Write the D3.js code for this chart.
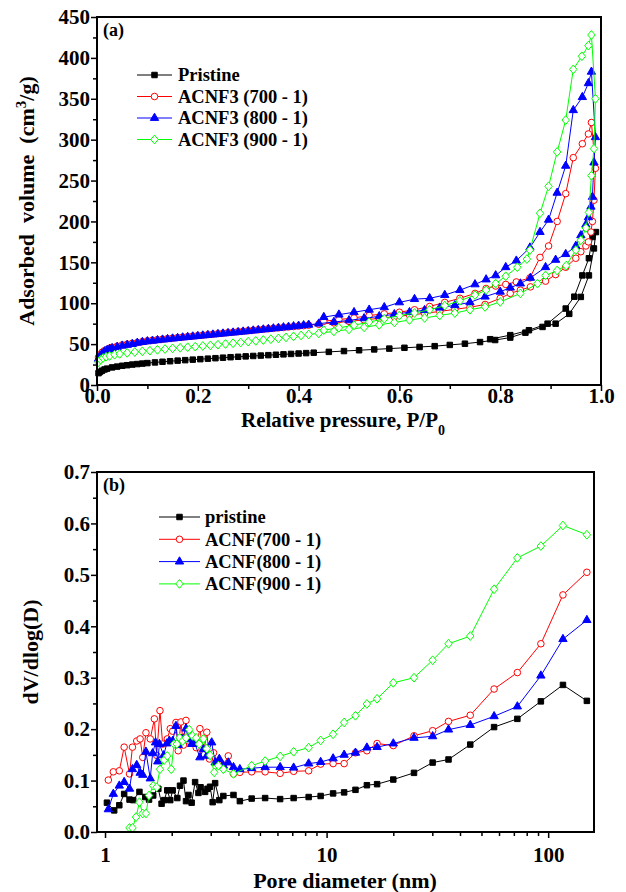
<!DOCTYPE html>
<html>
<head>
<meta charset="utf-8">
<script src="https://cdn.jsdelivr.net/npm/d3@7"></script>
<style>
  body { margin: 0; background: #fff; }
  svg text { font-family: "Liberation Serif", "Times New Roman", serif; font-weight: bold; fill: #000; }
</style>
</head>
<body>
<div id="chart"></div>
<script>
// ---------- panel (a): N2 isotherms, [P/P0, volume cm3/g] (adsorption then desorption) ----------
const isoPristine = [
  [0.003,14.5],[0.006,16],[0.01,17.5],[0.015,19],[0.02,20],[0.03,21.5],[0.04,22.5],[0.05,23.5],[0.06,24.2],[0.07,25],
  [0.08,25.6],[0.09,26.2],[0.10,26.8],[0.115,27.6],[0.13,28.4],[0.145,29.1],[0.16,29.8],[0.175,30.4],[0.19,31],[0.205,31.6],
  [0.22,32.2],[0.235,32.8],[0.25,33.4],[0.265,34],[0.28,34.5],[0.295,35],[0.31,35.5],[0.325,36],[0.34,36.5],[0.355,37],
  [0.37,37.5],[0.385,38],[0.40,38.5],[0.415,39],[0.43,39.5],[0.46,40.5],[0.49,41.5],[0.52,42.5],[0.55,43.5],[0.58,44.5],
  [0.61,45.5],[0.64,46.5],[0.67,47.5],[0.70,49],[0.73,50.5],[0.76,52.5],[0.79,55],[0.82,58],[0.85,64],[0.884,71],
  [0.91,75],[0.937,87],[0.96,107.7],[0.976,134],[0.986,167],[0.99,187],
  [0.983,181],[0.976,155],[0.963,134],[0.947,108],[0.930,93.5],[0.894,75],[0.857,67],[0.82,61],[0.78,56]
];
const isoACNF700 = [
  [0.003,34],[0.006,37],[0.01,40],[0.015,42],[0.02,43.5],[0.025,45],[0.03,46],[0.04,47.5],[0.05,49],[0.06,50],
  [0.07,51],[0.08,52],[0.09,53],[0.10,54],[0.11,54.7],[0.12,55.4],[0.13,56],[0.14,56.7],[0.15,57.3],[0.16,58],
  [0.17,58.6],[0.18,59.2],[0.19,59.8],[0.20,60.4],[0.21,61],[0.22,61.6],[0.23,62.2],[0.24,62.8],[0.25,63.4],[0.26,64],
  [0.27,64.6],[0.28,65.2],[0.29,65.8],[0.30,66.4],[0.31,67],[0.32,67.6],[0.33,68.2],[0.34,68.8],[0.35,69.3],[0.36,69.9],
  [0.37,70.4],[0.38,71],[0.39,71.5],[0.40,72.1],[0.41,72.6],[0.42,73.2],[0.44,74.3],[0.47,76],[0.50,77.8],[0.53,79.6],
  [0.56,81.5],[0.59,83.5],[0.62,85.5],[0.65,87.6],[0.68,90],[0.71,92.5],[0.74,95],[0.77,98.5],[0.80,106],[0.82,112],
  [0.84,116],[0.86,120],[0.89,127],[0.91,135],[0.93,144],[0.95,155],[0.96,163],[0.97,170],[0.975,175],[0.98,187],
  [0.983,200],[0.986,226],[0.989,265],
  [0.981,321],[0.975,307],[0.963,295],[0.945,278],[0.930,234],[0.913,200],[0.896,170],[0.879,156],[0.859,131],[0.832,126],
  [0.811,123],[0.791,121],[0.772,118],[0.75,112],[0.72,106],[0.69,101],[0.66,96],[0.63,92],[0.60,89],[0.57,87],
  [0.54,85],[0.51,82],[0.48,80],[0.45,78]
];
const isoACNF800 = [
  [0.003,32],[0.006,35.5],[0.01,38.5],[0.015,41],[0.02,42.5],[0.025,44],[0.03,45],[0.04,46.5],[0.05,48],[0.06,49],
  [0.07,50],[0.08,51.5],[0.09,52.5],[0.10,53.3],[0.11,54],[0.12,54.7],[0.13,55.4],[0.14,56],[0.15,56.7],[0.16,57.3],
  [0.17,58],[0.18,58.6],[0.19,59.2],[0.20,59.8],[0.21,60.4],[0.22,61],[0.23,61.6],[0.24,62.2],[0.25,62.8],[0.26,63.4],
  [0.27,64],[0.28,64.6],[0.29,65.2],[0.30,65.8],[0.31,66.5],[0.32,67.1],[0.33,67.8],[0.34,68.4],[0.35,69.1],[0.36,69.7],
  [0.37,70.4],[0.38,71],[0.39,71.7],[0.40,72.3],[0.41,73],[0.42,73.6],[0.44,75],[0.47,77],[0.50,79],[0.53,81.5],
  [0.56,84],[0.59,86.5],[0.62,89],[0.65,91.5],[0.68,94.5],[0.71,97.5],[0.74,101],[0.77,108],[0.80,114],[0.82,119],
  [0.84,124],[0.86,131],[0.89,144],[0.91,153],[0.93,160],[0.95,170],[0.96,183],[0.97,196],[0.975,205],[0.98,218],
  [0.983,230],[0.986,272],[0.989,303],
  [0.981,383],[0.975,369],[0.963,352],[0.945,336],[0.930,268],[0.913,235],[0.896,202],[0.879,187],[0.859,168],[0.832,152],
  [0.811,144],[0.791,134],[0.772,129],[0.75,123],[0.72,116],[0.69,110],[0.66,106],[0.63,105],[0.60,101],[0.57,95],
  [0.54,92],[0.51,89],[0.48,86],[0.45,83]
];
const isoACNF900 = [
  [0.003,28],[0.007,31],[0.012,33],[0.018,34.5],[0.025,35.5],[0.035,37],[0.045,38],[0.06,39.3],[0.075,40.3],[0.09,41.2],
  [0.105,42],[0.12,43],[0.135,44],[0.15,44.8],[0.165,45.5],[0.18,46.2],[0.195,46.9],[0.21,47.7],[0.225,48.5],[0.24,49.3],
  [0.255,50.2],[0.27,51.1],[0.285,52],[0.30,53],[0.315,54],[0.33,55],[0.345,56],[0.36,57],[0.375,58.2],[0.39,59.4],
  [0.405,60.6],[0.42,61.8],[0.44,63.2],[0.47,65.5],[0.50,68],[0.53,70.5],[0.56,73.5],[0.59,76.5],[0.62,79.5],[0.65,82],
  [0.68,85],[0.71,88],[0.74,92],[0.77,95.5],[0.80,101.6],[0.84,112],[0.874,124],[0.89,134],[0.913,140],[0.931,146],
  [0.95,165],[0.96,177],[0.97,192],[0.976,211],[0.981,256],[0.986,289],[0.989,350],
  [0.981,428],[0.975,415],[0.962,402],[0.945,386],[0.930,324],[0.913,285],[0.896,243],[0.879,210],[0.859,165],[0.853,154],
  [0.834,144],[0.811,133],[0.791,124],[0.772,116],[0.75,110],[0.72,103],[0.69,97],[0.66,92],[0.63,88],[0.60,85],
  [0.57,81],[0.54,77],[0.51,73],[0.48,70],[0.45,67]
];
const namesA = ["Pristine", "ACNF3 (700 - 1)", "ACNF3 (800 - 1)", "ACNF3 (900 - 1)"];
const xTicksA = [0, 0.2, 0.4, 0.6, 0.8, 1.0];
const xMinorA = [0.1, 0.3, 0.5, 0.7, 0.9];
const yTicksA = [0, 50, 100, 150, 200, 250, 300, 350, 400, 450];
const yMinorA = [25, 75, 125, 175, 225, 275, 325, 375, 425];

// ---------- panel (b): pore size distribution, [pore diameter nm, dV/dlog(D)] ----------
const psdPristine = [
  [1.02,0.057],[1.10,0.042],[1.16,0.052],[1.22,0.074],[1.29,0.063],[1.34,0.062],[1.43,0.078],[1.52,0.068],[1.58,0.063],[1.65,0.071],
  [1.74,0.084],[1.80,0.055],[1.85,0.062],[1.91,0.081],[1.97,0.062],[2.02,0.081],[2.12,0.066],[2.18,0.090],[2.26,0.100],[2.32,0.060],
  [2.38,0.072],[2.46,0.057],[2.55,0.097],[2.64,0.076],[2.70,0.087],[2.83,0.078],[2.90,0.084],[2.98,0.088],[3.06,0.058],[3.14,0.095],
  [3.28,0.062],[3.42,0.070],[3.80,0.072],[4.06,0.060],[4.59,0.065],[5.28,0.066],[6.17,0.064],[7.1,0.066],[8.3,0.068],[9.4,0.070],
  [10.7,0.075],[12.0,0.077],[13.5,0.082],[15.2,0.091],[16.9,0.093],[20.0,0.102],[24.8,0.115],[30.1,0.135],[35.5,0.141],[44.5,0.170],
  [57.0,0.204],[72.6,0.220],[92.7,0.254],[116.6,0.286],[149.5,0.255]
];
const psdACNF700 = [
  [1.035,0.101],[1.09,0.117],[1.16,0.119],[1.22,0.165],[1.29,0.113],[1.33,0.165],[1.39,0.177],[1.44,0.181],[1.48,0.145],[1.53,0.193],
  [1.60,0.181],[1.67,0.220],[1.71,0.149],[1.77,0.236],[1.82,0.171],[1.91,0.181],[1.97,0.201],[2.02,0.196],[2.09,0.213],[2.14,0.158],
  [2.20,0.214],[2.26,0.169],[2.32,0.217],[2.38,0.177],[2.46,0.183],[2.58,0.164],[2.68,0.201],[2.78,0.151],[2.88,0.194],[2.96,0.142],
  [3.09,0.154],[3.25,0.132],[3.42,0.130],[3.60,0.148],[3.80,0.113],[4.06,0.116],[4.59,0.117],[5.28,0.117],[6.17,0.114],[7.1,0.118],
  [8.3,0.119],[9.4,0.132],[10.7,0.133],[12.0,0.133],[13.5,0.154],[15.2,0.158],[16.9,0.172],[20.0,0.168],[24.8,0.187],[30.1,0.197],
  [35.5,0.215],[44.5,0.227],[57.0,0.278],[72.6,0.310],[92.7,0.366],[116.6,0.461],[149.5,0.505]
];
const psdACNF800 = [
  [1.035,0.044],[1.09,0.074],[1.16,0.090],[1.22,0.097],[1.29,0.084],[1.33,0.122],[1.39,0.130],[1.44,0.115],[1.48,0.111],[1.53,0.156],
  [1.60,0.104],[1.64,0.153],[1.69,0.174],[1.73,0.137],[1.76,0.171],[1.84,0.149],[1.90,0.172],[1.95,0.177],[2.02,0.177],[2.09,0.206],
  [2.14,0.169],[2.22,0.181],[2.32,0.201],[2.38,0.180],[2.46,0.171],[2.55,0.171],[2.68,0.145],[2.78,0.161],[2.88,0.148],[3.03,0.174],
  [3.14,0.135],[3.28,0.142],[3.42,0.129],[3.60,0.135],[3.80,0.126],[4.06,0.122],[4.59,0.124],[5.28,0.126],[6.17,0.126],[7.1,0.125],
  [8.3,0.133],[9.4,0.136],[10.7,0.143],[12.0,0.150],[13.5,0.154],[15.2,0.164],[16.9,0.165],[20.0,0.172],[24.8,0.183],[30.1,0.186],
  [35.5,0.199],[44.5,0.208],[57.0,0.225],[72.6,0.244],[92.7,0.304],[116.6,0.375],[149.5,0.412]
];
const psdACNF900 = [
  [1.29,0.008],[1.33,0.008],[1.38,0.029],[1.43,0.058],[1.48,0.036],[1.53,0.036],[1.58,0.071],[1.65,0.090],[1.71,0.087],[1.77,0.122],
  [1.85,0.140],[1.91,0.148],[1.99,0.122],[2.05,0.171],[2.11,0.171],[2.17,0.183],[2.24,0.177],[2.32,0.183],[2.40,0.199],[2.48,0.187],
  [2.58,0.183],[2.66,0.171],[2.78,0.181],[2.88,0.162],[2.98,0.149],[3.11,0.116],[3.25,0.129],[3.42,0.122],[3.80,0.113],[4.59,0.129],
  [5.28,0.138],[6.17,0.147],[7.1,0.156],[8.3,0.164],[9.4,0.178],[10.7,0.190],[12.0,0.213],[13.5,0.226],[15.2,0.249],[16.9,0.259],
  [20.0,0.290],[24.8,0.300],[30.1,0.334],[35.5,0.366],[44.5,0.381],[57.0,0.472],[72.6,0.533],[92.7,0.556],[116.6,0.596],[149.5,0.578]
];
const namesB = ["pristine", "ACNF(700 - 1)", "ACNF(800 - 1)", "ACNF(900 - 1)"];
const xTicksB = [1, 10, 100];
const xMinorB = [2, 3, 4, 5, 6, 7, 8, 9, 20, 30, 40, 50, 60, 70, 80, 90];
const yTicksB = [0, 0.1, 0.2, 0.3, 0.4, 0.5, 0.6, 0.7];
const yMinorB = [0.05, 0.15, 0.25, 0.35, 0.45, 0.55, 0.65];

// ---------- drawing ----------
const styles = [
  { color: "#000000", fill: "#000000", shape: "square" },
  { color: "#ff0000", fill: "#ffffff", shape: "circle" },
  { color: "#0000ff", fill: "#0000ff", shape: "triangle" },
  { color: "#00ff00", fill: "#ffffff", shape: "diamond" }
];

const diamond = {
  draw(ctx, size) {
    const h = Math.sqrt(size) * 0.62, w = h * 0.85;
    ctx.moveTo(0, -h); ctx.lineTo(w, 0); ctx.lineTo(0, h); ctx.lineTo(-w, 0); ctx.closePath();
  }
};
function symbolPath(shape) {
  if (shape === "square") return d3.symbol().type(d3.symbolSquare).size(30)();
  if (shape === "circle") return d3.symbol().type(d3.symbolCircle).size(34)();
  if (shape === "triangle") return d3.symbol().type(d3.symbolTriangle).size(30)();
  return d3.symbol().type(diamond).size(50)();
}

const svg = d3.select("#chart").append("svg")
  .attr("width", 626)
  .attr("height", 892);

function styleAxis(g) {
  g.select(".domain").remove();
  g.selectAll(".tick line").attr("stroke", "#000").attr("stroke-width", 1.5);
  g.selectAll(".tick text").style("font-size", "21px").attr("fill", "#000");
}

function drawPanel(p) {
  const g = svg.append("g");
  const x = p.x, y = p.y;

  // minor ticks
  g.append("g").attr("transform", `translate(0,${p.bottom})`)
    .call(d3.axisBottom(x).tickValues(p.xMinor).tickSize(4).tickFormat(""))
    .call(styleAxis);
  g.append("g").attr("transform", `translate(${p.left},0)`)
    .call(d3.axisLeft(y).tickValues(p.yMinor).tickSize(4).tickFormat(""))
    .call(styleAxis);
  // major ticks
  g.append("g").attr("transform", `translate(0,${p.bottom})`)
    .call(d3.axisBottom(x).tickValues(p.xTicks).tickSize(6).tickFormat(p.xFmt))
    .call(styleAxis)
    .call(a => a.selectAll(".tick text").attr("y", p.xLabelY));
  g.append("g").attr("transform", `translate(${p.left},0)`)
    .call(d3.axisLeft(y).tickValues(p.yTicks).tickSize(6).tickPadding(1).tickFormat(p.yFmt))
    .call(styleAxis);

  // series
  const line = d3.line().x(d => x(d[0])).y(d => y(d[1]));
  p.series.forEach((data, i) => {
    const s = styles[i];
    g.append("path").datum(data)
      .attr("d", line)
      .attr("fill", "none")
      .attr("stroke", s.color)
      .attr("stroke-width", 1);
    g.append("g").selectAll("path")
      .data(data)
      .enter()
      .append("path")
      .attr("transform", d => `translate(${x(d[0])},${y(d[1])})`)
      .attr("d", symbolPath(s.shape))
      .attr("fill", s.fill)
      .attr("stroke", s.color)
      .attr("stroke-width", 1);
  });

  // frame
  g.append("rect")
    .attr("x", p.left).attr("y", p.top)
    .attr("width", p.right - p.left).attr("height", p.bottom - p.top)
    .attr("fill", "none").attr("stroke", "#000").attr("stroke-width", 2);

  // legend
  p.names.forEach((name, i) => {
    const s = styles[i];
    const ly = p.legend.y + i * p.legend.dy;
    g.append("line")
      .attr("x1", p.legend.x1).attr("x2", p.legend.x2)
      .attr("y1", ly).attr("y2", ly)
      .attr("stroke", s.color).attr("stroke-width", 1);
    g.append("path")
      .attr("transform", `translate(${(p.legend.x1 + p.legend.x2) / 2},${ly})`)
      .attr("d", symbolPath(s.shape))
      .attr("fill", s.fill).attr("stroke", s.color);
    g.append("text")
      .attr("x", p.legend.tx).attr("y", ly)
      .attr("dy", "0.35em")
      .style("font-size", "18.5px")
      .text(name);
  });

  // panel tag
  g.append("text")
    .attr("x", p.left + 6).attr("y", p.top + 19)
    .style("font-size", "18px")
    .text(p.tag);

  return g;
}

// panel (a)
const xA = d3.scaleLinear().domain([0, 1]).range([97, 601]);
const yA = d3.scaleLinear().domain([0, 450]).range([385, 17]);
const gA = drawPanel({
  x: xA, y: yA, left: 97, right: 601, top: 17, bottom: 385,
  xTicks: xTicksA, xMinor: xMinorA, yTicks: yTicksA, yMinor: yMinorA,
  xFmt: d3.format(".1f"), yFmt: d3.format("d"), xLabelY: 3,
  series: [isoPristine, isoACNF700, isoACNF800, isoACNF900],
  names: namesA, tag: "(a)",
  legend: { x1: 137, x2: 172, tx: 178, y: 75, dy: 21.5 }
});
gA.append("text")
  .attr("x", 343).attr("y", 427)
  .attr("text-anchor", "middle")
  .style("font-size", "21px")
  .call(t => {
    t.append("tspan").text("Relative pressure, P/P");
    t.append("tspan").attr("baseline-shift", "sub").style("font-size", "14px").text("0");
  });
gA.append("text")
  .attr("transform", "translate(34,201) rotate(-90)")
  .attr("text-anchor", "middle")
  .style("font-size", "22px")
  .style("white-space", "pre")
  .call(t => {
    t.append("tspan").text("Adsorbed  volume  (cm");
    t.append("tspan").attr("baseline-shift", "super").style("font-size", "15px").text("3");
    t.append("tspan").text("/g)");
  });

// panel (b)
const xB = d3.scaleLog().domain([0.92, 161]).range([97, 594]);
const yB = d3.scaleLinear().domain([0, 0.7]).range([832, 472]);
const gB = drawPanel({
  x: xB, y: yB, left: 97, right: 594, top: 472, bottom: 832,
  xTicks: xTicksB, xMinor: xMinorB, yTicks: yTicksB, yMinor: yMinorB,
  xFmt: d3.format("d"), yFmt: d3.format(".1f"), xLabelY: 15,
  series: [psdPristine, psdACNF700, psdACNF800, psdACNF900],
  names: namesB, tag: "(b)",
  legend: { x1: 159, x2: 200, tx: 205, y: 517, dy: 22.3 }
});
gB.append("text")
  .attr("x", 345).attr("y", 888)
  .attr("text-anchor", "middle")
  .style("font-size", "22px")
  .text("Pore diameter (nm)");
gB.append("text")
  .attr("transform", "translate(38,652) rotate(-90)")
  .attr("text-anchor", "middle")
  .style("font-size", "22px")
  .text("dV/dlog(D)");
</script>
</body>
</html>
